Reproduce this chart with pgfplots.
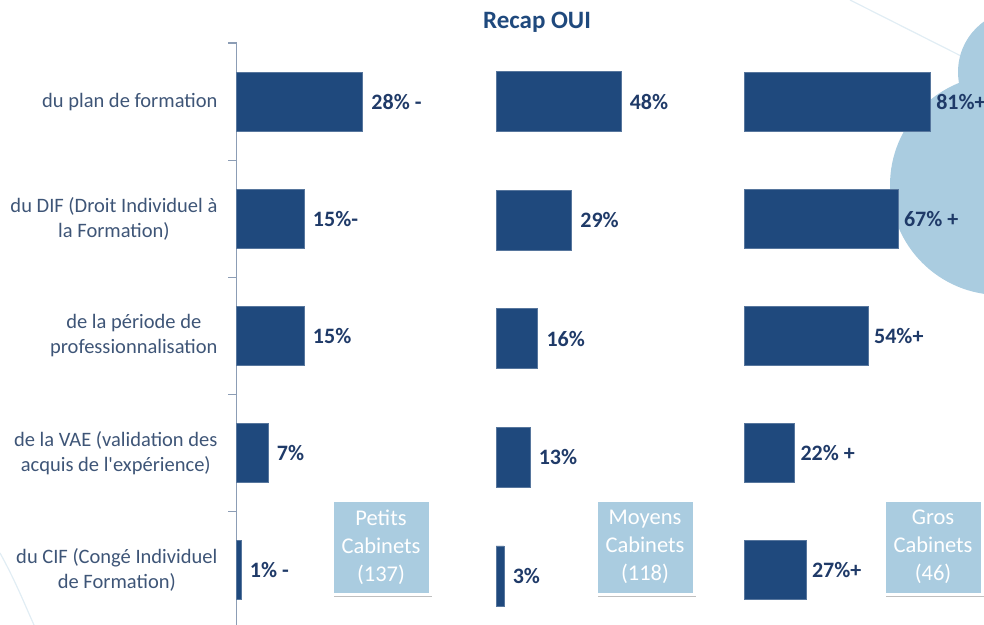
\documentclass[border=0pt]{standalone}
\usepackage{fontspec}
\setmainfont{Carlito}[Ligatures=TeXOff]
\usepackage{pgfplots}
\pgfplotsset{compat=1.18}
\usetikzlibrary{shadows}
\definecolor{barblue}{HTML}{1F497D}
\definecolor{lblue}{HTML}{1F3A68}
\definecolor{catgray}{HTML}{3E5577}
\definecolor{pale}{HTML}{AACCE0}
\definecolor{axisgray}{HTML}{8C9DB5}

\pgfplotsset{
  recap/.style={
    xbar, scale only axis, xmin=0, xmax=100,
    ymin=0.5, ymax=5.5, y dir=reverse,
    hide x axis, anchor=north west, clip=false,
    bar width=29.5pt,
    point meta=explicit symbolic,
    nodes near coords,
    nodes near coords align={horizontal},
    every node near coord/.append style={anchor=west, font=\fontsize{11}{12}\selectfont\bfseries, text=lblue, xshift=1pt},
  },
  recapbar/.style={fill=barblue, draw=barblue!75!white, line width=0.3pt},
}

\begin{document}
\begin{tikzpicture}
\useasboundingbox (0,0) rectangle (492pt,-312.5pt);

% decoration behind the chart
\begin{scope}[x=0.5pt, y=-0.5pt]
  \draw[pale!35, line width=0.6pt] (850,0) -- (965,58);
  \draw[pale!35, line width=0.6pt] (0,553) .. controls (15,580) and (25,605) .. (34,625);
  \fill[pale] (1000,185) circle[radius=110];
  \fill[pale] (1020,72) circle[radius=62];
\end{scope}

\node[font=\fontsize{12.5}{14}\selectfont\bfseries, text=barblue] at (268.5pt,-11pt) {Recap OUI};

% Petits cabinets
\begin{axis}[recap,
  at={(118.25pt,-21.5pt)}, width=225pt, height=292.75pt,
  axis y line*=left, y axis line style={-, draw=axisgray, line width=0.6pt},
  ytick={1,2,3,4,5}, major tick length=0pt,
  minor ytick={0.5,1.5,2.5,3.5,4.5,5.5}, minor tick length=4pt,
  tick align=outside, minor tick style={draw=axisgray, line width=0.6pt},
  yticklabels={
    {du plan de formation},
    {du DIF (Droit Individuel à\\la Formation)},
    {de la période de\\professionnalisation},
    {de la VAE (validation des\\acquis de l'expérience)},
    {du CIF (Congé Individuel\\de Formation)}},
  yticklabel style={align=center, xshift=-6pt,
    font=\fontsize{10.25}{12.5}\selectfont, text=catgray},
]
\addplot[recapbar] coordinates {
  (28,1) [28\% -] (15,2) [15\%-] (15,3) [15\%] (7,4) [7\%] (1,5) [1\% -]
};
\end{axis}

% Moyens cabinets
\begin{axis}[recap,
  at={(248pt,-21.1pt)}, width=130pt, height=296.5pt,
  hide y axis, bar width=30pt,
]
\addplot[recapbar] coordinates {
  (48,1) [48\%] (29,2) [29\%] (16,3) [16\%] (13,4) [13\%] (3,5) [3\%]
};
\end{axis}

% Gros cabinets
\begin{axis}[recap,
  at={(372pt,-21.5pt)}, width=115pt, height=292.75pt,
  hide y axis,
  every node near coord/.append style={xshift=-1.5pt},
]
\addplot[recapbar] coordinates {
  (81,1) [81\%+] (67,2) [67\% +] (54,3) [54\%+] (22,4) [22\% +] (27,5) [27\%+]
};
\end{axis}

% group boxes
\begin{scope}[x=0.5pt, y=-0.5pt,
  box/.style={fill=pale, draw=white, line width=1.5pt,
    minimum width=49pt, minimum height=47pt, inner sep=0pt,
    align=center, text=white, font=\fontsize{11.25}{14}\selectfont,
    drop shadow={shadow xshift=1.1pt, shadow yshift=-1.3pt, opacity=0.5}}]
  \node[box] at (381,547) {Petits\\Cabinets\\(137)};
  \node[box] at (645,547) {Moyens\\Cabinets\\(118)};
  \node[box] at (933,547) {Gros\\Cabinets\\(46)};
\end{scope}
\end{tikzpicture}
\end{document}
